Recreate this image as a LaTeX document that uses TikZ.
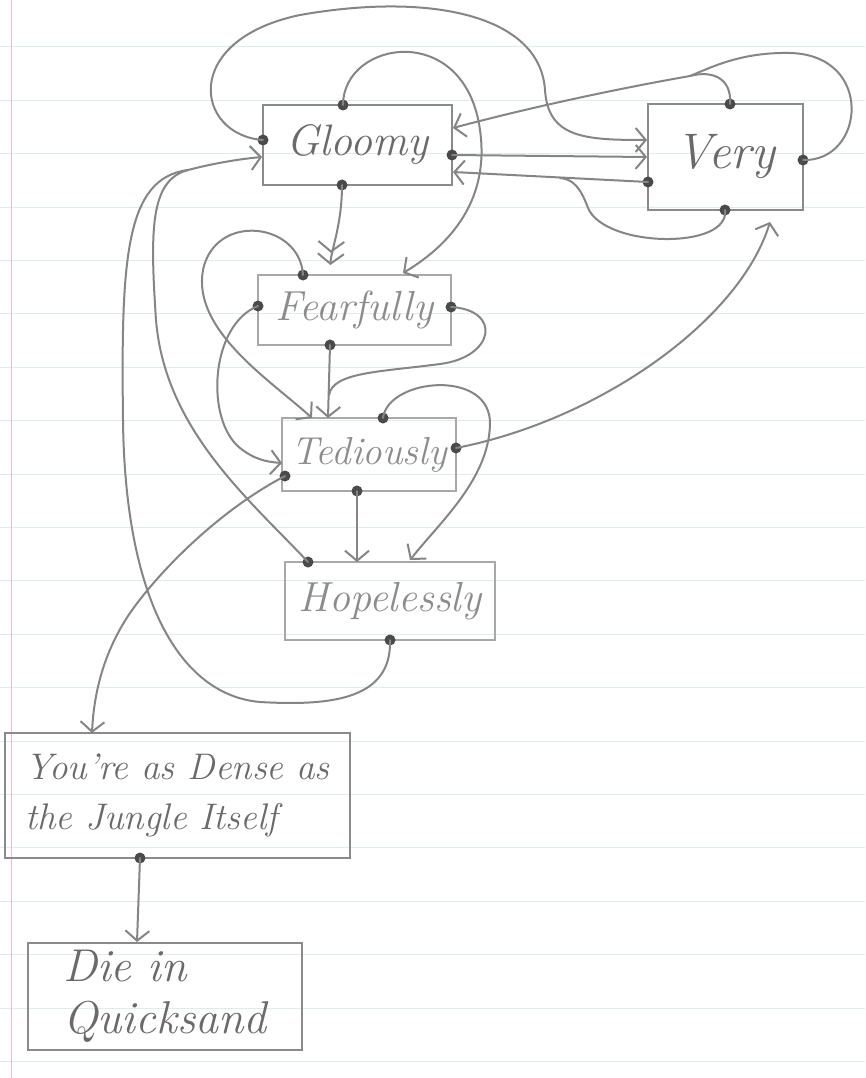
\documentclass[tikz,border=0pt]{standalone}
\usetikzlibrary{arrows.meta}
\definecolor{pencil}{HTML}{858585}
\definecolor{boxgray}{HTML}{8A8A8A}
\definecolor{lightbox}{HTML}{A8A8A8}
\definecolor{dotgray}{HTML}{4A4A4A}
\definecolor{txtgray}{HTML}{6A6A6A}
\definecolor{lighttxt}{HTML}{8C8C8C}
\definecolor{ruled}{HTML}{DCEDEF}
\definecolor{margin}{HTML}{F2B8CF}
\tikzset{
  box/.style={draw=boxgray, line width=2pt, rectangle, inner sep=0pt, text=txtgray, font=\itshape},
  lbox/.style={box, draw=lightbox, text=lighttxt},
  dot/.style={circle, fill=dotgray, inner sep=0pt, minimum size=11pt},
  wire/.style={draw=pencil, line width=2pt, line cap=round},
  arr/.style={wire, -{Straight Barb[length=10pt,width=24pt]}},
  darr/.style={wire, -{Straight Barb[length=10pt,width=26pt] Straight Barb[length=10pt,width=26pt,sep=10pt]}},
}
\begin{document}
\begin{tikzpicture}[x=1pt,y=-1pt]
\useasboundingbox (0,0) rectangle (865,1078);
\fill[white] (0,0) rectangle (865,1078);
% paper
\foreach \k in {0,...,19} \draw[ruled, line width=0.8pt] (0,{46.8+53.4*\k}) -- (865,{46.8+53.4*\k});
\draw[margin, line width=1pt] (11,0) -- (11,1078);

% boxes
\node[box, minimum width=189pt, minimum height=80pt, font=\itshape\fontsize{44}{48}\selectfont] (gloomy) at (357.5,145) {Gloomy};
\node[box, minimum width=155pt, minimum height=106pt, font=\itshape\fontsize{50}{54}\selectfont] (very) at (725.5,157) {Very};
\node[lbox, minimum width=193pt, minimum height=70pt, font=\itshape\fontsize{42}{46}\selectfont] (fear) at (354.5,310) {Fearfully};
\node[lbox, minimum width=174pt, minimum height=73pt, font=\itshape\fontsize{39}{42}\selectfont] (ted) at (369,454.5) {Tediously};
\node[lbox, minimum width=210pt, minimum height=78pt, font=\itshape\fontsize{42}{46}\selectfont] (hope) at (390,601) {Hopelessly};
\node[box, minimum width=345pt, minimum height=125pt, align=left, font=\itshape\fontsize{37}{50}\selectfont] (dense) at (177.5,795.5) {You're as Dense as\\the Jungle Itself};
\node[box, minimum width=274pt, minimum height=107pt, align=left, font=\itshape\fontsize{46}{52}\selectfont] (die) at (165,996) {Die in\\Quicksand};

% dots (connector starts)
\node[dot] (gdl) at (263,140) {};
\node[dot] (gdt) at (343,105) {};
\node[dot] (gdr) at (452,155) {};
\node[dot] (gdb) at (342,185) {};
\node[dot] (vdt) at (730,104) {};
\node[dot] (vdr) at (803,160) {};
\node[dot] (vdl) at (648,182) {};
\node[dot] (vdb) at (725,210) {};
\node[dot] (fdtl) at (303,275) {};
\node[dot] (fdl) at (258,306) {};
\node[dot] (fdr) at (451,307) {};
\node[dot] (fdb) at (330,345) {};
\node[dot] (tdtr) at (383,418) {};
\node[dot] (tdr) at (456,448) {};
\node[dot] (tdl) at (285,476) {};
\node[dot] (tdb) at (357,491) {};
\node[dot] (hdtl) at (308,562) {};
\node[dot] (hdb) at (390,640) {};
\node[dot] (ddb) at (140,858) {};

% arrow ends
\coordinate (gInL) at (262,157);
\coordinate (gInR1) at (453,128);
\coordinate (gInR2) at (453,172);
\coordinate (vInL1) at (647,140);
\coordinate (vInL2) at (647,157);
\coordinate (vInB) at (770,222);
\coordinate (fInT1) at (330,275);
\coordinate (fInT2) at (403,273);
\coordinate (tInT1) at (312,418);
\coordinate (tInT2) at (328,418);
\coordinate (tInL) at (282,463);
\coordinate (hInT1) at (357,562);
\coordinate (hInT2) at (410,560);
\coordinate (dInT) at (92,733);
\coordinate (diInT) at (137,942);
\coordinate (gMerge) at (188,170);
\coordinate (vMerge) at (690,76);
\coordinate (rMerge) at (560,178);

% Gloomy / Very connectors
\draw[arr] (gdl.center) .. controls (195,135) and (180,40) .. (300,15)
  .. controls (430,-8) and (540,15) .. (545,90)
  .. controls (548,138) and (585,140) .. (vInL1);
\draw[arr] (gdt.center) .. controls (343,40) and (465,20) .. (480,130)
  .. controls (490,200) and (450,245) .. (fInT2);
\draw[wire] (vdt.center) .. controls (732,78) and (712,70) .. (vMerge);
\draw[wire] (vdr.center) .. controls (865,162) and (875,55) .. (790,53)
  .. controls (740,52) and (710,68) .. (vMerge);
\draw[arr] (vMerge) .. controls (610,90) and (520,110) .. (gInR1);
\draw[arr] (gdr.center) -- (vInL2);
\draw[arr] (vdl.center) -- (gInR2);
\draw[wire] (vdb.center) .. controls (730,250) and (605,248) .. (588,208)
  .. controls (580,186) and (572,179) .. (rMerge);
\draw[darr] (gdb.center) .. controls (342,225) and (331,250) .. (fInT1);

% Fearfully connectors
\draw[arr] (fdtl.center) .. controls (300,222) and (215,212) .. (203,270)
  .. controls (192,330) and (270,380) .. (tInT1);
\draw[arr] (fdl.center) .. controls (210,325) and (205,420) .. (240,448)
  .. controls (255,460) and (268,462) .. (tInL);
\draw[wire] (fdr.center) .. controls (502,310) and (495,357) .. (440,364)
  .. controls (380,372) and (333,372) .. (329,395);
\draw[arr] (fdb.center) -- (tInT2);

% Tediously connectors
\draw[arr] (tdr.center) .. controls (600,420) and (740,320) .. (vInB);
\draw[arr] (tdtr.center) .. controls (388,378) and (492,368) .. (490,425)
  .. controls (488,480) and (440,522) .. (hInT2);
\draw[arr] (tdb.center) -- (hInT1);
\draw[arr] (tdl.center) .. controls (220,510) and (160,570) .. (130,613)
  .. controls (105,650) and (94,690) .. (dInT);

% Hopelessly connectors back to Gloomy
\draw[arr] (hdtl.center) .. controls (250,500) and (165,430) .. (156,320)
  .. controls (150,230) and (150,180) .. (gMerge)
  .. controls (215,163) and (240,159) .. (gInL);
\draw[wire] (hdb.center) .. controls (392,700) and (330,706) .. (260,702)
  .. controls (180,695) and (125,600) .. (123,420)
  .. controls (121,260) and (125,178) .. (gMerge);

% Dense to Die
\draw[arr] (ddb.center) -- (diInT);
\end{tikzpicture}
\end{document}
